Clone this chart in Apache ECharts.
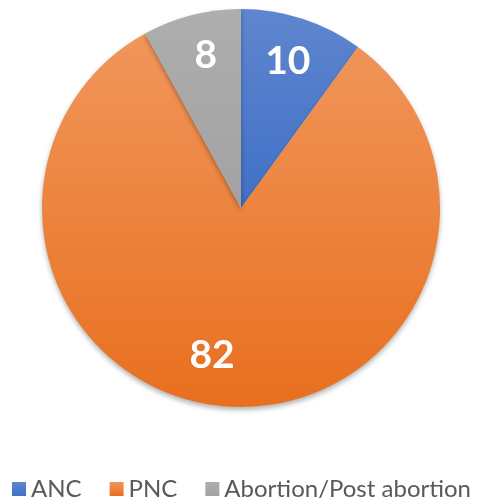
<!DOCTYPE html>
<html><head><meta charset="utf-8">
<script src="https://cdn.jsdelivr.net/npm/echarts@6/dist/echarts.min.js"></script>
<style>html,body{margin:0;padding:0;background:#fff}#c{width:483px;height:503px}</style>
</head><body><div id="c"></div>
<script>
const categories = ['ANC', 'PNC', 'Abortion/Post abortion'];
const values = [10, 82, 8];
const topColors = ['#5F86CF', '#F1965C', '#AEAEAE'];
const bottomColors = ['#4070C6', '#E86F1E', '#A2A2A2'];

function grad(i) {
  return new echarts.graphic.LinearGradient(0, 0, 0, 1, [
    {offset: 0, color: topColors[i]}, {offset: 1, color: bottomColors[i]}
  ]);
}
const chart = echarts.init(document.getElementById('c'), null, {renderer: 'canvas'});
const center = [241, 208];
const labelOffsets = [[-2, 4], [-19, -10], [4, 0]];
chart.setOption({
  animation: false,
  legend: {
    bottom: -3, left: 'center', itemWidth: 14, itemHeight: 14, itemGap: 28,
    icon: 'rect',
    textStyle: {fontFamily: 'Lato, Open Sans, sans-serif', fontSize: 24, color: '#595959'},
    data: categories
  },
  series: [{
    type: 'pie', center: center, radius: 199, startAngle: 90, clockwise: true,
    label: {show: false}, labelLine: {show: false},
    itemStyle: {shadowBlur: 5, shadowOffsetY: 3, shadowColor: 'rgba(0,0,0,0.3)'},
    data: categories.map((n, i) => ({name: n, value: values[i], itemStyle: {color: grad(i)}}))
  }, {
    type: 'pie', center: center, radius: [111, 199], startAngle: 90, clockwise: true, silent: true,
    label: {show: true, position: 'inside', formatter: '{c}', color: '#fff', fontSize: 39, fontWeight: 'bold', fontFamily: 'Lato, Open Sans, sans-serif'},
    labelLine: {show: false},
    itemStyle: {color: 'rgba(0,0,0,0)'},
    data: categories.map((n, i) => ({name: n, value: values[i], label: {offset: labelOffsets[i]}}))
  }]
});
</script></body></html>
